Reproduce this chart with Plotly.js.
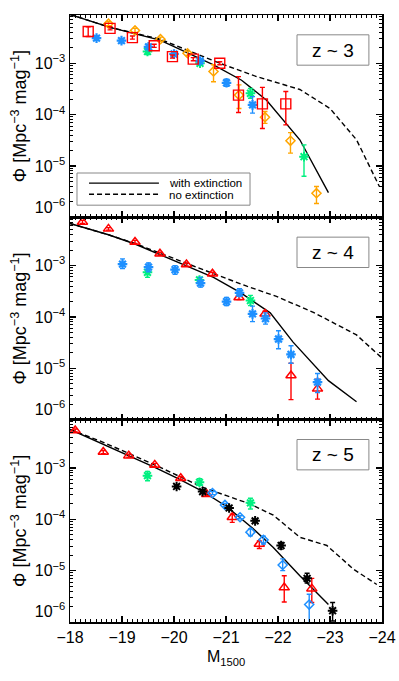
<!DOCTYPE html>
<html><head><meta charset="utf-8">
<script src="https://cdn.plot.ly/plotly-3.0.1.min.js"></script>
<style>html,body{margin:0;padding:0;background:#fff}#chart{width:399px;height:681px}</style>
</head><body><div id="chart"></div>
<script>
// ---------- data (M1500 and log10 Phi) ----------
// z ~ 3 panel
const z3_solid_M   = [-18.0,-18.77,-19.73,-20.76,-21.30,-21.78,-22.42,-22.97];
const z3_solid_log = [-2.05,-2.30,-2.55,-3.03,-3.33,-3.72,-4.49,-5.52];
const z3_dash_M    = [-18.0,-18.77,-19.73,-20.24,-20.88,-21.59,-22.42,-23.0,-23.51,-23.95];
const z3_dash_log  = [-2.05,-2.30,-2.53,-2.74,-3.00,-3.26,-3.51,-3.88,-4.49,-5.40];

const z3_sq_M   = [-18.35,-18.77,-19.20,-19.62,-19.97,-20.37,-20.88,-21.24,-21.70,-22.15];
const z3_sq_log = [-2.38,-2.32,-2.50,-2.66,-2.87,-2.92,-3.00,-3.62,-3.79,-3.79];
const z3_sq_lo  = [-2.48,-2.35,-2.53,-2.69,-2.90,-2.95,-3.03,-3.96,-4.27,-4.20];
const z3_sq_hi  = [-2.29,-2.29,-2.47,-2.63,-2.84,-2.89,-2.97,-3.26,-3.47,-3.55];

const z3_ast_M   = [-18.51,-18.99,-19.51,-20.00,-20.50,-21.01,-21.51];
const z3_ast_log = [-2.51,-2.56,-2.68,-2.82,-2.955,-3.38,-3.81];
const z3_ast_lo  = [-2.55,-2.60,-2.73,-2.86,-3.00,-3.45,-3.97];
const z3_ast_hi  = [-2.47,-2.52,-2.63,-2.78,-2.91,-3.31,-3.65];

const z3_dia_M   = [-18.74,-19.25,-19.74,-20.26,-20.76,-21.25,-21.75,-22.24,-22.74];
const z3_dia_log = [-2.23,-2.36,-2.53,-2.805,-3.16,-3.62,-4.05,-4.51,-5.53];
const z3_dia_lo  = [-2.27,-2.40,-2.57,-2.85,-3.36,-3.88,-4.17,-4.75,-5.73];
const z3_dia_hi  = [-2.19,-2.32,-2.49,-2.76,-3.03,-3.42,-3.94,-4.35,-5.40];

const z3_grn_M   = [-19.49,-20.50,-21.47,-22.50];
const z3_grn_log = [-2.77,-3.00,-3.585,-4.82];
const z3_grn_lo  = [-2.83,-3.04,-3.68,-5.20];
const z3_grn_hi  = [-2.71,-2.96,-3.49,-4.59];

// z ~ 4 panel
const z4_solid_M   = [-18.0,-18.74,-19.25,-19.73,-20.24,-20.76,-21.27,-21.85,-22.29,-22.97,-23.51];
const z4_solid_log = [-2.18,-2.40,-2.58,-2.79,-3.01,-3.23,-3.52,-3.92,-4.49,-5.24,-5.65];
const z4_dash_M    = [-18.0,-18.74,-19.25,-19.73,-20.24,-20.69,-21.40,-21.97,-22.68,-23.51,-24.0];
const z4_dash_log  = [-2.18,-2.40,-2.57,-2.76,-2.96,-3.13,-3.40,-3.60,-3.91,-4.35,-4.80];

const z4_tri_M   = [-18.24,-18.74,-19.25,-19.73,-20.24,-20.74,-21.25,-21.75,-22.25,-22.76];
const z4_tri_log = [-2.15,-2.285,-2.54,-2.77,-2.98,-3.16,-3.62,-3.94,-5.14,-5.40];
const z4_tri_lo  = [-2.18,-2.31,-2.57,-2.80,-3.01,-3.19,-3.66,-3.99,-5.61,-5.60];
const z4_tri_hi  = [-2.12,-2.26,-2.51,-2.74,-2.95,-3.13,-3.58,-3.89,-4.90,-5.21];

const z4_ast_M   = [-19.01,-19.51,-20.02,-20.51,-21.01,-21.26,-21.51,-21.76,-22.01,-22.25,-22.76];
const z4_ast_log = [-2.97,-3.03,-3.08,-3.34,-3.70,-3.53,-3.94,-4.03,-4.43,-4.73,-5.27];
const z4_ast_lo  = [-3.06,-3.12,-3.17,-3.42,-3.78,-3.60,-4.09,-4.14,-4.62,-4.90,-5.47];
const z4_ast_hi  = [-2.87,-2.95,-3.00,-3.23,-3.62,-3.45,-3.79,-3.92,-4.27,-4.56,-5.10];

const z4_grn_M   = [-19.49,-20.49,-21.47];
const z4_grn_log = [-3.13,-3.28,-3.68];
const z4_grn_lo  = [-3.23,-3.34,-3.78];
const z4_grn_hi  = [-3.03,-3.23,-3.58];

// z ~ 5 panel
const z5_solid_M   = [-18.0,-19.12,-19.63,-20.08,-20.56,-21.01,-21.53,-21.91,-22.42,-22.97];
const z5_solid_log = [-2.25,-2.75,-2.99,-3.21,-3.46,-3.75,-4.19,-4.55,-5.10,-5.66];
const z5_dash_M    = [-18.0,-18.64,-19.63,-20.56,-21.01,-21.46,-21.91,-22.42,-22.94,-23.45,-23.9];
const z5_dash_log  = [-2.25,-2.50,-2.94,-3.38,-3.54,-3.70,-3.92,-4.35,-4.51,-4.97,-5.27];

const z5_tri_M   = [-18.10,-18.64,-19.13,-19.63,-20.13,-20.63,-21.12,-21.64,-22.12,-22.65];
const z5_tri_log = [-2.27,-2.69,-2.76,-2.94,-3.20,-3.51,-3.96,-4.48,-5.33,-5.35];
const z5_tri_lo  = [-2.30,-2.72,-2.79,-2.97,-3.23,-3.54,-4.06,-4.57,-5.61,-5.62];
const z5_tri_hi  = [-2.24,-2.66,-2.73,-2.91,-3.17,-3.48,-3.90,-4.42,-5.10,-5.15];

const z5_dia_M   = [-20.74,-20.98,-21.27,-21.47,-21.72,-22.09,-22.60];
const z5_dia_log = [-3.49,-3.72,-3.96,-4.25,-4.40,-4.89,-5.66];
const z5_dia_lo  = [-3.52,-3.75,-3.99,-4.32,-4.48,-5.00,-6.30];
const z5_dia_hi  = [-3.46,-3.69,-3.93,-4.19,-4.33,-4.77,-5.46];

const z5_blk_M   = [-20.05,-20.55,-21.06,-21.56,-22.06,-22.56,-23.05];
const z5_blk_log = [-3.36,-3.46,-3.78,-4.03,-4.51,-5.15,-5.78];
const z5_blk_lo  = [-3.39,-3.49,-3.81,-4.06,-4.58,-5.24,-5.98];
const z5_blk_hi  = [-3.33,-3.43,-3.75,-4.00,-4.45,-5.05,-5.62];

const z5_grn_M   = [-19.49,-20.49,-21.47];
const z5_grn_log = [-3.15,-3.28,-3.68];
const z5_grn_lo  = [-3.25,-3.34,-3.80];
const z5_grn_hi  = [-3.07,-3.21,-3.59];

// ticks / labels
const xTickVals = [-18,-19,-20,-21,-22,-23,-24];
const xTickText = ['\u221218','\u221219','\u221220','\u221221','\u221222','\u221223','\u221224'];
const yTickVals = [1e-6,1e-5,1e-4,1e-3];
const yTickText = ['10<sup>\u22126</sup><br>\u00a0','10<sup>\u22125</sup>','10<sup>\u22124</sup>','10<sup>\u22123</sup>'];
const panelLabels = ['z ~ 3','z ~ 4','z ~ 5'];
const legendLabels = ['with extinction','no extinction'];

// ---------- build ----------
const RED='#ff0000', BLUE='#1e90ff', ORANGE='#ffa500', GREEN='#00f080', BLACK='#000000';
const P = v => Math.pow(10, v);
function pts(M, lg, lo, hi, color, symbol, size, ax, lw){
  const y = lg.map(P);
  return {type:'scatter', mode:'markers', x:M, y:y, xaxis:'x'+ax, yaxis:'y'+ax, showlegend:false,
    marker:{symbol:symbol, size:size, color:color, line:{color:color, width:lw||1.3}},
    error_y:{type:'data', symmetric:false,
      array: hi.map((h,i)=>P(h)-y[i]), arrayminus: lo.map((l,i)=>y[i]-P(l)),
      color:color, thickness:1.4, width:2.5}};
}
function line(M, lg, dash, ax, name){
  return {type:'scatter', mode:'lines', x:M, y:lg.map(P), xaxis:'x'+ax, yaxis:'y'+ax,
    name:name, showlegend:false, line:{color:BLACK, width:1.4, dash:dash}, hoverinfo:'skip'};
}
const DASH = '5px,3px';
const data = [
  // top panel (z~3) -> axes 3
  line(z3_solid_M, z3_solid_log, 'solid', '3', legendLabels[0]),
  line(z3_dash_M, z3_dash_log, DASH, '3', legendLabels[1]),
  pts(z3_dia_M, z3_dia_log, z3_dia_lo, z3_dia_hi, ORANGE, 'diamond-open', 7, '3', 1.5),
  pts(z3_grn_M, z3_grn_log, z3_grn_lo, z3_grn_hi, GREEN, 'asterisk-open', 8, '3', 2),
  pts(z3_ast_M, z3_ast_log, z3_ast_lo, z3_ast_hi, BLUE, 'asterisk-open', 8, '3', 2.2),
  pts(z3_sq_M, z3_sq_log, z3_sq_lo, z3_sq_hi, RED, 'square-open', 10, '3', 1.4),
  // middle panel (z~4) -> axes 2
  line(z4_solid_M, z4_solid_log, 'solid', '2', legendLabels[0]),
  line(z4_dash_M, z4_dash_log, DASH, '2', legendLabels[1]),
  pts(z4_grn_M, z4_grn_log, z4_grn_lo, z4_grn_hi, GREEN, 'asterisk-open', 8, '2', 2),
  pts(z4_tri_M, z4_tri_log, z4_tri_lo, z4_tri_hi, RED, 'triangle-up-open', 9, '2', 1.5),
  pts(z4_ast_M, z4_ast_log, z4_ast_lo, z4_ast_hi, BLUE, 'asterisk-open', 8, '2', 2.2),
  // bottom panel (z~5) -> axes 1
  line(z5_solid_M, z5_solid_log, 'solid', '', legendLabels[0]),
  line(z5_dash_M, z5_dash_log, DASH, '', legendLabels[1]),
  pts(z5_grn_M, z5_grn_log, z5_grn_lo, z5_grn_hi, GREEN, 'asterisk-open', 8, '', 2),
  pts(z5_tri_M, z5_tri_log, z5_tri_lo, z5_tri_hi, RED, 'triangle-up-open', 9, '', 1.5),
  pts(z5_dia_M, z5_dia_log, z5_dia_lo, z5_dia_hi, BLUE, 'diamond-open', 7, '', 1.5),
  pts(z5_blk_M, z5_blk_log, z5_blk_lo, z5_blk_hi, BLACK, 'asterisk-open', 8, '', 2)
];

const FONT = 'Liberation Sans, Arial, Helvetica, sans-serif';
const minorY = [];
for (let e=-6; e<=-3; e++) for (let k=2; k<=9; k++) minorY.push(k*Math.pow(10,e));

function xax(anchor, showLabels){
  const a = {range:[-18,-24], autorange:false, anchor:anchor, showline:true, linecolor:BLACK, linewidth:1.5,
    mirror:'allticks', ticks:'inside', ticklen:6, tickwidth:1.2, tickcolor:BLACK,
    tickmode:'array', tickvals:xTickVals, ticktext:xTickText, showticklabels:showLabels,
    tickfont:{size:16, color:BLACK, family:FONT},
    minor:{ticks:'inside', ticklen:3, tickwidth:1, tickcolor:BLACK, tick0:-18, dtick:0.1, showgrid:false},
    showgrid:false, zeroline:false, fixedrange:true};
  if (anchor !== 'y') a.matches = 'x';
  return a;
}
function yax(domain, anchor){
  return {type:'log', range:[-6,-2.06], autorange:false, domain:domain, anchor:anchor,
    showline:true, linecolor:BLACK, linewidth:1.5, mirror:'allticks',
    ticks:'inside', ticklen:6, tickwidth:1.2, tickcolor:BLACK,
    tickmode:'array', tickvals:yTickVals, ticktext:yTickText,
    tickfont:{size:16, color:BLACK, family:FONT},
    minor:{ticks:'inside', ticklen:3, tickwidth:1, tickcolor:BLACK, tickmode:'array', tickvals:minorY, showgrid:false},
    showgrid:false, zeroline:false, fixedrange:true,
    title:{text:'\u03A6 [Mpc<sup>\u22123</sup> mag<sup>\u22121</sup>]', font:{size:18, color:BLACK, family:FONT}, standoff:3}};
}

const shapes = [], annotations = [];
[['x3','y3'],['x2','y2'],['x','y']].forEach((ax,i)=>{
  shapes.push({type:'rect', xref:ax[0]+' domain', yref:ax[1]+' domain', x0:0.7276, x1:0.958, y0:0.752, y1:0.902,
    line:{color:'#888888', width:1}, fillcolor:'rgba(0,0,0,0)'});
  annotations.push({xref:ax[0]+' domain', yref:ax[1]+' domain', x:0.843, y:0.827, text:panelLabels[i],
    showarrow:false, xanchor:'center', yanchor:'middle', font:{size:19, color:BLACK, family:FONT}});
});
// legend box in top panel
shapes.push({type:'rect', xref:'x3 domain', yref:'y3 domain', x0:0.0224, x1:0.577, y0:0.060, y1:0.219,
  line:{color:'#888888', width:1}, fillcolor:'rgba(0,0,0,0)'});
shapes.push({type:'line', xref:'x3 domain', yref:'y3 domain', x0:0.061, x1:0.285, y0:0.169, y1:0.169,
  line:{color:BLACK, width:1.4}});
shapes.push({type:'line', xref:'x3 domain', yref:'y3 domain', x0:0.061, x1:0.285, y0:0.114, y1:0.114,
  line:{color:BLACK, width:1.4, dash:DASH}});
annotations.push({xref:'x3 domain', yref:'y3 domain', x:0.311, y:0.172, text:legendLabels[0], showarrow:false,
  xanchor:'left', yanchor:'middle', font:{size:11.5, color:BLACK, family:FONT}});
annotations.push({xref:'x3 domain', yref:'y3 domain', x:0.311, y:0.111, text:legendLabels[1], showarrow:false,
  xanchor:'left', yanchor:'middle', font:{size:11.5, color:BLACK, family:FONT}});

const xa1 = xax('y', true);
xa1.title = {text:'M<sub>1500</sub>', font:{size:16, color:BLACK, family:FONT}, standoff:6};
const layout = {
  width:399, height:681, margin:{l:70, r:17, t:15, b:59},
  paper_bgcolor:'#ffffff', plot_bgcolor:'#ffffff', showlegend:false,
  font:{family:FONT, color:BLACK},
  xaxis: xa1, xaxis2: xax('y2', false), xaxis3: xax('y3', false),
  yaxis: yax([0, 0.3333], 'x'), yaxis2: yax([0.3333, 0.6667], 'x2'), yaxis3: yax([0.6667, 1], 'x3'),
  shapes: shapes, annotations: annotations
};
Plotly.newPlot('chart', data, layout, {staticPlot:true, displayModeBar:false});
</script></body></html>
